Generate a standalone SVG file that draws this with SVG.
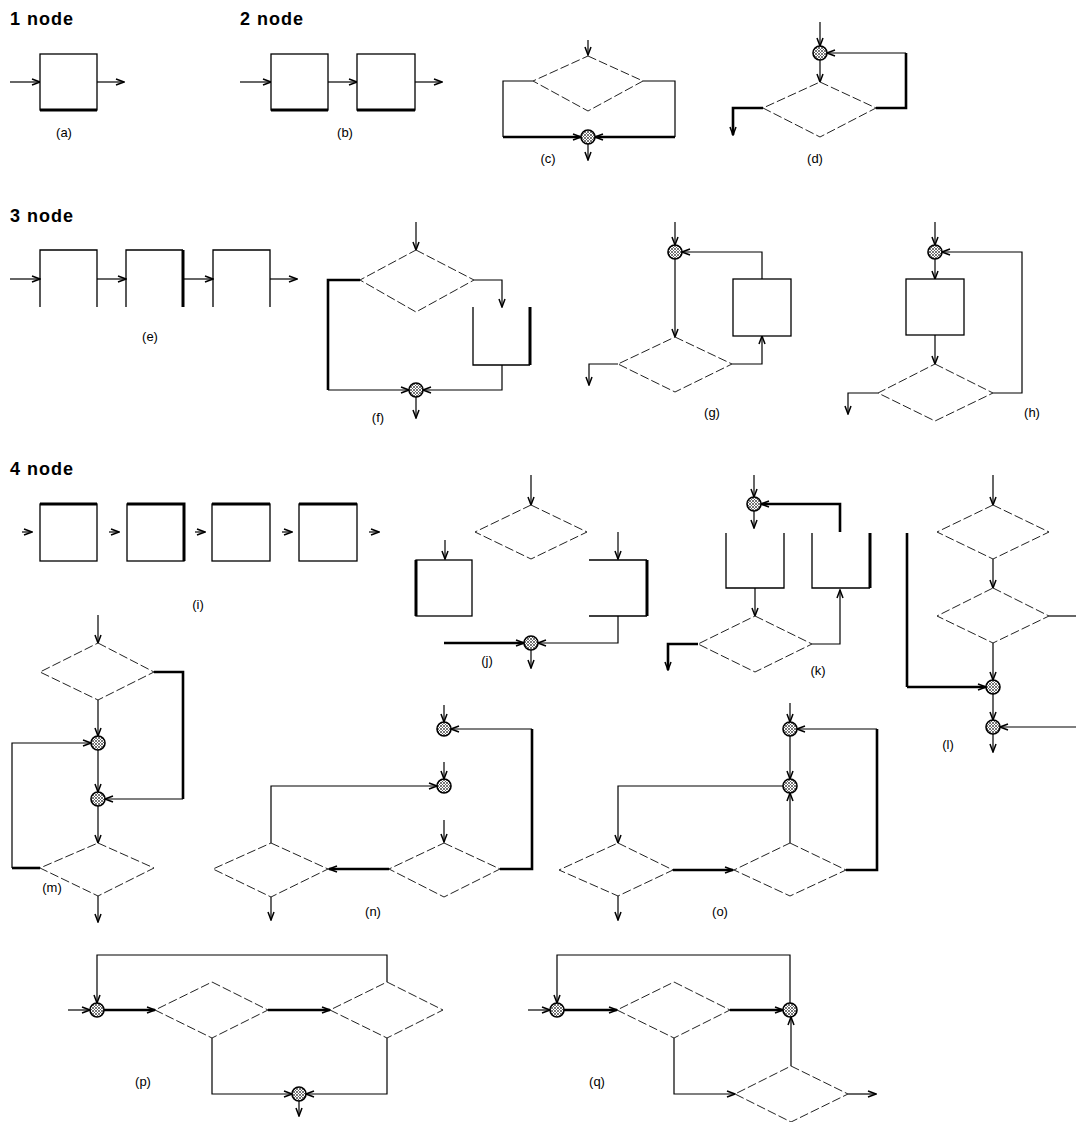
<svg xmlns="http://www.w3.org/2000/svg" width="1076" height="1122" viewBox="0 0 1076 1122">
<defs>
<style>
.box{fill:#fff;stroke:#000;stroke-width:1.3}
.ob{fill:none;stroke:#000;stroke-width:1.3}
.tk{fill:none;stroke:#000;stroke-width:3}
.dia{fill:#fff;stroke:#222;stroke-width:1;stroke-dasharray:9 3}
.jn{fill:url(#hatch);stroke:#000;stroke-width:1.6}
#connectors path{fill:none;stroke:#000;stroke-width:1.2}
#connectors path.t{stroke-width:2.6}
#connectors path.a{marker-end:url(#ah)}
.hd{font-family:"Liberation Sans",Arial,sans-serif;font-weight:bold;font-size:18px;letter-spacing:1px}
.lb{font-family:"Liberation Sans",Arial,sans-serif;font-size:13px;text-anchor:middle;fill:#000}
</style>
<pattern id="hatch" width="3" height="3" patternUnits="userSpaceOnUse">
<rect width="3" height="3" fill="#fff"/>
<path d="M0,0 L3,3 M3,0 L0,3" stroke="#555" stroke-width="0.8"/>
</pattern>
<marker id="ah" markerWidth="10" markerHeight="8" refX="9" refY="4" orient="auto" markerUnits="userSpaceOnUse">
<path d="M1,1 L9,4 L1,7" fill="none" stroke="#000" stroke-width="1.5"/>
</marker>
</defs>
<rect width="1076" height="1122" fill="#fff"/>

<g id="headers">
<text class="hd" x="10" y="25">1 node</text>
<text class="hd" x="240" y="25">2 node</text>
<text class="hd" x="10" y="222">3 node</text>
<text class="hd" x="10" y="475">4 node</text>
</g>

<g id="connectors">
<!-- a -->
<path class="a" d="M10,82 H40"/>
<path class="a" d="M97,82 H124"/>
<!-- b -->
<path class="a" d="M240,82 H271"/>
<path class="a" d="M328,82 H357"/>
<path class="a" d="M415,82 H442"/>
<!-- c -->
<path class="a" d="M588,40 V55"/>
<path d="M533,81 H503 V137"/>
<path class="t a" d="M503,137 H581"/>
<path d="M643,81 H675 V137"/>
<path class="t a" d="M675,137 H595"/>
<path class="a" d="M588,144 V160"/>
<!-- d -->
<path class="a" d="M820,22 V46"/>
<path class="a" d="M820,60 V82"/>
<path class="t" d="M876,108 H906 V53"/>
<path class="a" d="M906,53 H827"/>
<path class="t a" d="M763,108 H733 V135"/>
<!-- e -->
<path class="a" d="M10,279 H40"/>
<path class="a" d="M97,279 H126"/>
<path class="a" d="M183,279 H213"/>
<path class="a" d="M270,279 H297"/>
<!-- f -->
<path class="a" d="M416,222 V250"/>
<path class="t" d="M360,280 H328 V390"/>
<path class="a" d="M328,390 H409"/>
<path class="a" d="M474,280 H502 V307"/>
<path class="a" d="M502,365 V390 H423"/>
<path class="a" d="M416,397 V418"/>
<!-- g -->
<path class="a" d="M675,222 V245"/>
<path class="a" d="M675,259 V337"/>
<path class="a" d="M618,364 H589 V385"/>
<path class="a" d="M732,364 H762 V336"/>
<path class="a" d="M762,279 V252 H682"/>
<!-- h -->
<path class="a" d="M935,222 V245"/>
<path class="a" d="M935,259 V279"/>
<path class="a" d="M935,335 V364"/>
<path class="a" d="M878,393 H848 V414"/>
<path class="a" d="M993,393 H1022 V252 H942"/>
<!-- i -->
<path class="a" d="M22,532 H32"/>
<path class="a" d="M109,532 H119"/>
<path class="a" d="M195,532 H205"/>
<path class="a" d="M282,532 H292"/>
<path class="a" d="M369,532 H379"/>
<!-- j -->
<path class="a" d="M531,475 V505"/>
<path class="a" d="M445,540 V559"/>
<path class="a" d="M618,532 V559"/>
<path class="a" d="M618,616 V643 H538"/>
<path class="t a" d="M444,643 H524"/>
<path class="a" d="M531,650 V668"/>
<!-- k -->
<path class="a" d="M754,475 V497"/>
<path class="a" d="M754,511 V528"/>
<path class="t a" d="M840,532 V504 H761"/>
<path class="a" d="M755,588 V616"/>
<path class="a" d="M812,644 H840 V590"/>
<path class="t a" d="M698,644 H668 V670"/>
<!-- l -->
<path class="a" d="M993,475 V505"/>
<path class="a" d="M993,559 V588"/>
<path d="M1049,616 H1076"/>
<path class="a" d="M993,643 V680"/>
<path class="t" d="M907,533 V687"/>
<path class="t a" d="M907,687 H986"/>
<path class="a" d="M993,694 V720"/>
<path class="a" d="M1076,727 H1000"/>
<path class="a" d="M993,734 V752"/>
<!-- m -->
<path class="a" d="M98,615 V643"/>
<path class="a" d="M98,700 V736"/>
<path class="a" d="M98,750 V792"/>
<path class="a" d="M98,806 V843"/>
<path class="t" d="M154,672 H183 V799"/>
<path class="a" d="M183,799 H105"/>
<path class="t" d="M40,868 H12"/>
<path class="a" d="M12,868 V743 H91"/>
<path class="a" d="M98,896 V922"/>
<!-- n -->
<path class="a" d="M444,705 V722"/>
<path class="a" d="M444,762 V779"/>
<path class="a" d="M444,820 V842"/>
<path class="t a" d="M389,869 H329"/>
<path class="t" d="M500,869 H532 V729"/>
<path class="a" d="M532,729 H451"/>
<path class="a" d="M271,843 V786 H437"/>
<path class="a" d="M271,897 V920"/>
<!-- o -->
<path class="a" d="M790,703 V722"/>
<path class="a" d="M790,736 V779"/>
<path class="t a" d="M673,870 H733"/>
<path class="a" d="M790,843 V793"/>
<path class="a" d="M783,786 H618 V843"/>
<path class="t" d="M846,870 H877 V729"/>
<path class="a" d="M877,729 H797"/>
<path class="a" d="M618,896 V920"/>
<!-- p -->
<path class="a" d="M68,1010 H90"/>
<path class="t a" d="M104,1010 H155"/>
<path class="t a" d="M268,1010 H330"/>
<path class="a" d="M387,982 V955 H97 V1003"/>
<path class="a" d="M212,1038 V1094 H292"/>
<path class="a" d="M387,1038 V1094 H306"/>
<path class="a" d="M299,1101 V1116"/>
<!-- q -->
<path class="a" d="M528,1010 H550"/>
<path class="t a" d="M564,1010 H617"/>
<path class="t a" d="M730,1010 H783"/>
<path class="a" d="M790,1003 V955 H557 V1003"/>
<path class="a" d="M674,1038 V1094 H735"/>
<path class="a" d="M791,1066 V1017"/>
<path class="a" d="M848,1094 H876"/>
</g>

<!-- (a) -->
<g id="a-box"><rect class="box" x="40" y="54" width="57" height="56"/><path class="tk" d="M40,110 H97"/></g>
<!-- (b) -->
<g id="b-box1"><rect class="box" x="271" y="54" width="57" height="56"/><path class="tk" d="M271,110 H328"/></g>
<g id="b-box2"><rect class="box" x="357" y="54" width="58" height="56"/><path class="tk" d="M357,110 H415"/></g>
<!-- (c) -->
<g id="c-dec"><path class="dia" d="M588,56 L643,81 L588,111 L533,81 Z"/></g>
<g id="c-join"><circle class="jn" cx="588" cy="137" r="7"/></g>
<!-- (d) -->
<g id="d-join"><circle class="jn" cx="820" cy="53" r="7"/></g>
<g id="d-dec"><path class="dia" d="M820,82 L876,108 L820,137 L763,108 Z"/></g>
<!-- (e) -->
<g id="e-box1"><path class="ob" d="M40,307 V250 H97 V307"/></g>
<g id="e-box2"><path class="ob" d="M126,307 V250 H183"/><path class="tk" d="M183,250 V307"/></g>
<g id="e-box3"><path class="ob" d="M213,307 V250 H270 V307"/></g>
<!-- (f) -->
<g id="f-dec"><path class="dia" d="M416,250 L474,280 L416,312 L360,280 Z"/></g>
<g id="f-box"><path class="ob" d="M473,307 V365 H530"/><path class="tk" d="M530,365 V307"/></g>
<g id="f-join"><circle class="jn" cx="416" cy="390" r="7"/></g>
<!-- (g) -->
<g id="g-join"><circle class="jn" cx="675" cy="252" r="7"/></g>
<g id="g-dec"><path class="dia" d="M675,337 L732,364 L675,392 L618,364 Z"/></g>
<g id="g-box"><rect class="box" x="733" y="279" width="58" height="57" stroke-width="2.5"/></g>
<!-- (h) -->
<g id="h-join"><circle class="jn" cx="935" cy="252" r="7"/></g>
<g id="h-box"><rect class="box" x="906" y="279" width="58" height="56" stroke-width="2.5"/></g>
<g id="h-dec"><path class="dia" d="M935,364 L993,393 L935,421 L878,393 Z"/></g>
<!-- (i) -->
<g id="i-box1"><rect class="box" x="40" y="504" width="57" height="57"/><path class="tk" d="M40,504 H97"/></g>
<g id="i-box2"><rect class="box" x="127" y="504" width="57" height="57"/><path class="tk" d="M127,504 H184 V561"/></g>
<g id="i-box3"><rect class="box" x="212" y="504" width="58" height="57"/><path class="tk" d="M212,504 H270"/></g>
<g id="i-box4"><rect class="box" x="299" y="504" width="58" height="57"/><path class="tk" d="M299,504 H357"/></g>
<!-- (j) -->
<g id="j-dec"><path class="dia" d="M531,505 L587,532 L531,559 L475,532 Z"/></g>
<g id="j-box1"><rect class="box" x="416" y="560" width="56" height="56"/><path class="tk" d="M416,560 V616"/></g>
<g id="j-box2"><path class="ob" d="M589,560 H647 M647,616 H589"/><path class="tk" d="M647,560 V616"/></g>
<g id="j-join"><circle class="jn" cx="531" cy="643" r="7"/></g>
<!-- (k) -->
<g id="k-join"><circle class="jn" cx="754" cy="504" r="7"/></g>
<g id="k-box1"><path class="ob" d="M726,533 V588 H784 V533"/></g>
<g id="k-box2"><path class="ob" d="M812,533 V588 H870"/><path class="tk" d="M870,588 V533"/></g>
<g id="k-dec"><path class="dia" d="M755,616 L812,644 L755,672 L698,644 Z"/></g>
<!-- (l) -->
<g id="l-dec1"><path class="dia" d="M993,505 L1049,532 L993,559 L937,532 Z"/></g>
<g id="l-dec2"><path class="dia" d="M993,588 L1049,616 L993,643 L937,616 Z"/></g>
<g id="l-join1"><circle class="jn" cx="993" cy="687" r="7"/></g>
<g id="l-join2"><circle class="jn" cx="993" cy="727" r="7"/></g>
<!-- (m) -->
<g id="m-dec1"><path class="dia" d="M98,643 L154,672 L98,700 L40,672 Z"/></g>
<g id="m-join1"><circle class="jn" cx="98" cy="743" r="7"/></g>
<g id="m-join2"><circle class="jn" cx="98" cy="799" r="7"/></g>
<g id="m-dec2"><path class="dia" d="M98,843 L154,868 L98,896 L40,868 Z"/></g>
<!-- (n) -->
<g id="n-join1"><circle class="jn" cx="444" cy="729" r="7"/></g>
<g id="n-join2"><circle class="jn" cx="444" cy="786" r="7"/></g>
<g id="n-dec1"><path class="dia" d="M271,843 L328,869 L271,897 L213,869 Z"/></g>
<g id="n-dec2"><path class="dia" d="M444,843 L500,869 L444,897 L389,869 Z"/></g>
<!-- (o) -->
<g id="o-join1"><circle class="jn" cx="790" cy="729" r="7"/></g>
<g id="o-join2"><circle class="jn" cx="790" cy="786" r="7"/></g>
<g id="o-dec1"><path class="dia" d="M618,843 L673,870 L618,896 L559,870 Z"/></g>
<g id="o-dec2"><path class="dia" d="M790,843 L846,870 L790,896 L734,870 Z"/></g>
<!-- (p) -->
<g id="p-join1"><circle class="jn" cx="97" cy="1010" r="7"/></g>
<g id="p-dec1"><path class="dia" d="M212,982 L268,1010 L212,1038 L155,1010 Z"/></g>
<g id="p-dec2"><path class="dia" d="M387,982 L443,1010 L387,1038 L330,1010 Z"/></g>
<g id="p-join2"><circle class="jn" cx="299" cy="1094" r="7"/></g>
<!-- (q) -->
<g id="q-join1"><circle class="jn" cx="557" cy="1010" r="7"/></g>
<g id="q-dec1"><path class="dia" d="M674,982 L730,1010 L674,1038 L617,1010 Z"/></g>
<g id="q-join2"><circle class="jn" cx="790" cy="1010" r="7"/></g>
<g id="q-dec2"><path class="dia" d="M791,1066 L848,1094 L791,1122 L735,1094 Z"/></g>

<g id="labels">
<text class="lb" x="64" y="137">(a)</text>
<text class="lb" x="345" y="137">(b)</text>
<text class="lb" x="548" y="163">(c)</text>
<text class="lb" x="815" y="163">(d)</text>
<text class="lb" x="150" y="341">(e)</text>
<text class="lb" x="378" y="422">(f)</text>
<text class="lb" x="712" y="417">(g)</text>
<text class="lb" x="1032" y="417">(h)</text>
<text class="lb" x="198" y="609">(i)</text>
<text class="lb" x="487" y="665">(j)</text>
<text class="lb" x="818" y="675">(k)</text>
<text class="lb" x="948" y="749">(l)</text>
<text class="lb" x="52" y="892">(m)</text>
<text class="lb" x="373" y="916">(n)</text>
<text class="lb" x="720" y="916">(o)</text>
<text class="lb" x="143" y="1086">(p)</text>
<text class="lb" x="597" y="1086">(q)</text>
</g>
</svg>
